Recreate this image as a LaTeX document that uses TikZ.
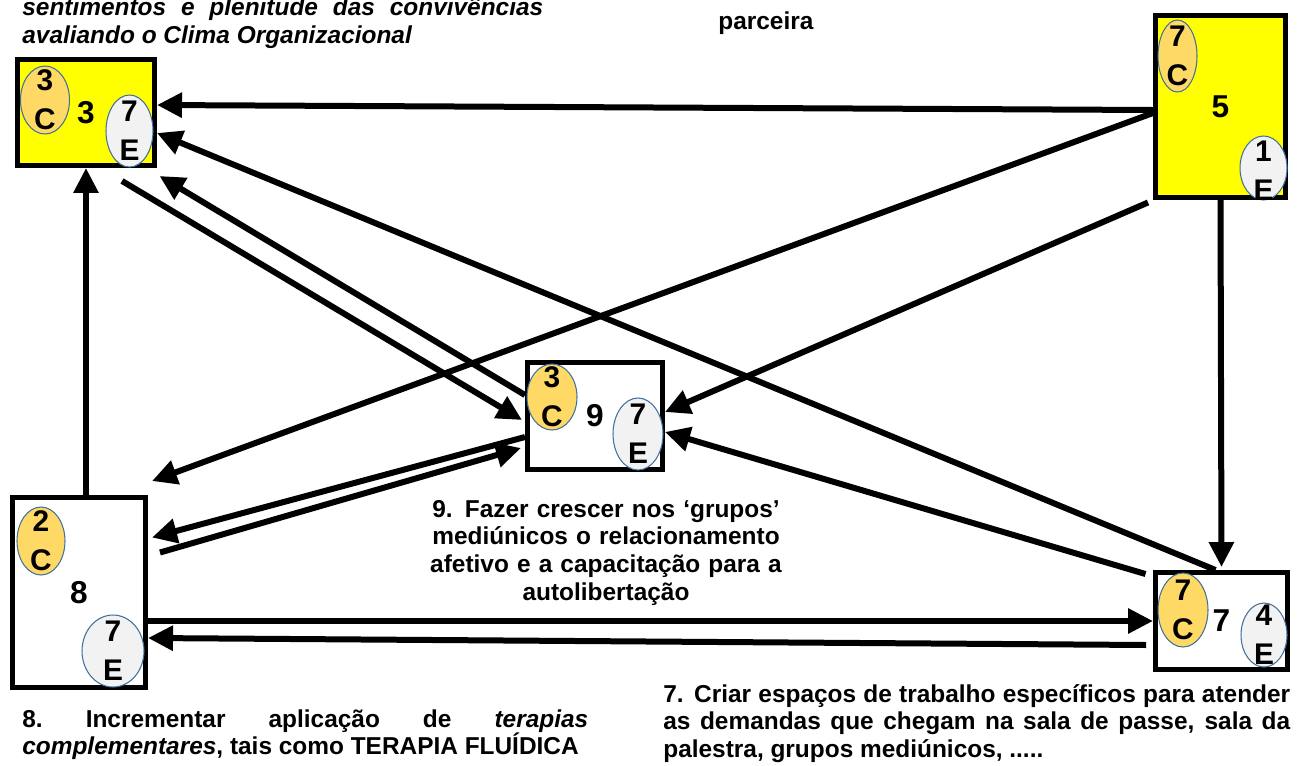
\documentclass[tikz,border=0pt]{standalone}
\usepackage{fontspec}
\setmainfont{Liberation Sans}
\usetikzlibrary{arrows.meta,shapes.geometric}

\definecolor{boxyellow}{HTML}{FFFF00}
\definecolor{cfill}{HTML}{FFD966}
\definecolor{efill}{HTML}{F2F2F2}
\definecolor{ringblue}{HTML}{41719C}

\tikzset{
  box/.style={draw=black, line width=0.1cm, inner sep=0pt, font=\bfseries\fontsize{18}{20}\selectfont},
  cell/.style={ellipse, draw=ringblue, line width=0.6pt, inner sep=0pt},
  cellC/.style={cell, fill=cfill},
  cellE/.style={cell, fill=efill},
  celltext/.style={inner sep=0pt, align=center, font=\bfseries\fontsize{17}{22}\selectfont},
  link/.style={line width=0.12cm, -{Triangle[length=0.5cm,width=0.48cm]}},
  note/.style={inner sep=0pt, font=\bfseries\fontsize{13.9}{15.9}\selectfont}
}

\begin{document}
\begin{tikzpicture}[x=0.02cm, y=-0.02cm]
  \useasboundingbox (0,0) rectangle (1298,765);

  % Boxes
  \node[box, fill=boxyellow, minimum width=2.74cm, minimum height=2.12cm] (b3) at (86,112.5) {3};
  \node[box, fill=boxyellow, minimum width=2.6cm, minimum height=3.64cm] (b5) at (1220.5,106.5) {5};
  \node[box, fill=white, minimum width=2.7cm, minimum height=2.14cm] (b9) at (595,416) {9};
  \node[box, fill=white, minimum width=2.66cm, minimum height=3.8cm] (b8) at (79,592.5) {8};
  \node[box, fill=white, minimum width=2.64cm, minimum height=1.94cm] (b7) at (1221.5,621) {7};

  % Ellipses
  \node[cellC, minimum width=0.98cm, minimum height=1.36cm] (b3c) at (45,100) {};
  \node[celltext] at (b3c) {3\\C};
  \node[cellE, minimum width=0.94cm, minimum height=1.44cm] (b3e) at (129.5,131) {};
  \node[celltext] at (b3e) {7\\E};

  \node[cellC, minimum width=0.78cm, minimum height=1.44cm] (b5c) at (1177.5,56) {};
  \node[celltext] at (b5c) {7\\C};
  \node[cellE, minimum width=0.94cm, minimum height=1.28cm] (b5e) at (1263.5,168) {};
  \node[celltext] at ([yshift=-0.05cm]b5e) {1\\E};

  \node[cellC, minimum width=1.0cm, minimum height=1.32cm] (b9c) at (552,397) {};
  \node[celltext] at (b9c) {3\\C};
  \node[cellE, minimum width=1.0cm, minimum height=1.44cm] (b9e) at (638,434) {};
  \node[celltext] at (b9e) {7\\E};

  \node[cellC, minimum width=0.96cm, minimum height=1.36cm] (b8c) at (41,541) {};
  \node[celltext] at (b8c) {2\\C};
  \node[cellE, minimum width=1.24cm, minimum height=1.44cm] (b8e) at (113,651) {};
  \node[celltext] at (b8e) {7\\E};

  \node[cellC, minimum width=1.0cm, minimum height=1.48cm] (b7c) at (1183,610) {};
  \node[celltext] at (b7c) {7\\C};
  \node[cellE, minimum width=0.92cm, minimum height=1.28cm] (b7e) at (1264,635) {};
  \node[celltext] at (b7e) {4\\E};

  % Links
  \draw[link] ([yshift=-0.07cm]b5.west) -- ([yshift=0.15cm]b3.east);
  \draw[link] ([yshift=-0.13cm]b5.west) -- ([shift={(0.08cm,0.28cm)}]b8.north east);
  \draw[link] ([shift={(-0.1cm,-0.05cm)}]b5.south west) -- ([yshift=0.08cm]b9.east);
  \draw[link] (b5.south) -- ([yshift=0.06cm]b7.north);
  \draw[link] ([shift={(0.72cm,-0.26cm)}]b3.south) -- ([shift={(-0.06cm,-0.08cm)}]b9.west);
  \draw[link] ([yshift=0.42cm]b9.west) -- ([shift={(0.05cm,-0.16cm)}]b3.south east);
  \draw[link] ([xshift=-0.12cm]b7.north) -- ([yshift=-0.41cm]b3.east);
  \draw[link] ([shift={(-0.15cm,-0.08cm)}]b7.north west) -- ([yshift=-0.32cm]b9.east);
  \draw[link] ([yshift=-0.42cm]b9.west) -- ([shift={(0.08cm,1.1cm)}]b8.east);
  \draw[link] ([shift={(0.24cm,0.8cm)}]b8.east) -- ([shift={(-0.08cm,-0.64cm)}]b9.west);
  \draw[link] (b3.south |- b8.north) -- (b3.south);
  \draw[link] (b8.east |- b7.west) -- (b7.west);
  \draw[link] ([shift={(-0.14cm,-0.48cm)}]b7.west) -- ([yshift=-0.91cm]b8.east);

  % Texts
  \node[note, anchor=base west, text width=10.42cm, align=justify,
        font=\bfseries\itshape\fontsize{13.9}{16.5}\selectfont] (topnote) at (22,15)
    {sentimentos e plenitude das convivências\linebreak avaliando o Clima Organizacional};
  \node[note, anchor=base west] (partner) at (718,29) {parceira};
  \node[note, anchor=base, text width=8cm, align=center] (n9) at (606,517)
    {9. Fazer crescer nos ‘grupos’\\mediúnicos o relacionamento\\afetivo e a capacitação para a\\autolibertação};
  \node[note, anchor=base west, text width=11.32cm, align=justify] (n8) at (22,727)
    {8.\ Incrementar aplicação de \textit{terapias}\linebreak \textit{complementares}, tais como TERAPIA FLUÍDICA};
  \node[note, anchor=base west, text width=12.54cm, align=justify] (n7) at (663,702)
    {7. Criar espaços de trabalho específicos para atender\linebreak as demandas que chegam na sala de passe, sala da\linebreak palestra, grupos mediúnicos, .....};
\end{tikzpicture}
\end{document}
